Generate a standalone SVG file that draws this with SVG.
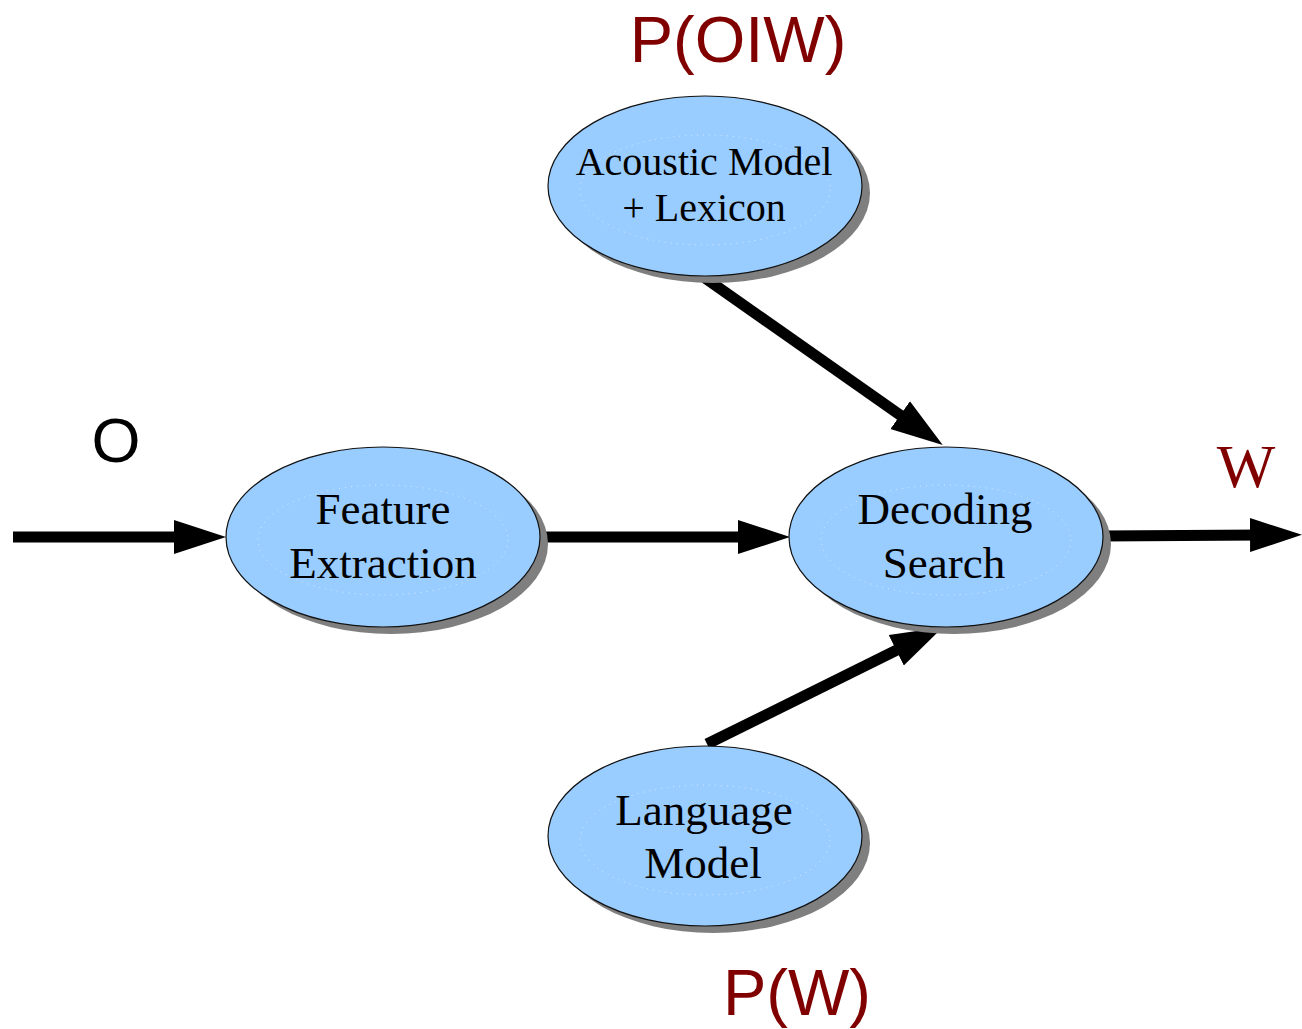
<svg xmlns="http://www.w3.org/2000/svg" width="1302" height="1029" viewBox="0 0 1302 1029">
<style>
.shadow{fill:#7f7f7f}
.body{fill:#99ccff;stroke:#111;stroke-width:1.2}
.inner{fill:none;stroke:#e8f2ff;stroke-width:1;stroke-dasharray:1 5;opacity:0.8}
.lbl{font-family:"Liberation Serif","Times New Roman",serif;font-size:45px;fill:#000;text-anchor:middle}
.lbl-s{font-family:"Liberation Serif","Times New Roman",serif;font-size:40px;fill:#000;text-anchor:middle}
.prob{font-family:"Liberation Sans",Arial,sans-serif;font-size:65px;fill:#800000;text-anchor:middle}
.o{font-family:"Liberation Sans",Arial,sans-serif;font-size:63px;fill:#000;text-anchor:middle}
.w{font-family:"Liberation Serif","Times New Roman",serif;font-size:62px;fill:#800000;text-anchor:middle}
.edge{stroke:#000;stroke-width:11;fill:none;marker-end:url(#ah)}
</style>
<defs>
<marker id="ah" markerUnits="userSpaceOnUse" markerWidth="54" markerHeight="38" refX="12" refY="18" orient="auto">
<path d="M0,1 L52,18 L0,35 Z" fill="#000"/>
</marker>
</defs>
<rect width="1302" height="1029" fill="#fff"/>
<g id="connectors">
<path class="edge" d="M13,537 L186,537"/>
<path class="edge" d="M540,537 L750,537"/>
<path class="edge" d="M1102,536 L1262,535"/>
<path class="edge" d="M705,278 L910,422"/>
<path class="edge" d="M707,744 L907,645"/>
</g>
<g id="acoustic">
<ellipse class="shadow" cx="713" cy="193" rx="157" ry="90"/>
<ellipse class="body" cx="705" cy="186" rx="157" ry="90"/>
<ellipse class="inner" cx="705" cy="190" rx="125" ry="55"/>
<text class="lbl-s" x="704" y="175">Acoustic Model</text>
<text class="lbl-s" x="704" y="221">+ Lexicon</text>
</g>
<g id="feature">
<ellipse class="shadow" cx="391" cy="544" rx="157" ry="90"/>
<ellipse class="body" cx="383" cy="537" rx="157" ry="90"/>
<ellipse class="inner" cx="383" cy="540" rx="125" ry="55"/>
<text class="lbl" x="383" y="524">Feature</text>
<text class="lbl" x="383" y="578">Extraction</text>
</g>
<g id="decoding">
<ellipse class="shadow" cx="954" cy="544" rx="157" ry="90"/>
<ellipse class="body" cx="946" cy="537" rx="157" ry="90"/>
<ellipse class="inner" cx="946" cy="540" rx="125" ry="55"/>
<text class="lbl" x="945" y="524">Decoding</text>
<text class="lbl" x="944" y="578">Search</text>
</g>
<g id="language">
<ellipse class="shadow" cx="713" cy="843" rx="157" ry="90"/>
<ellipse class="body" cx="705" cy="836" rx="157" ry="90"/>
<ellipse class="inner" cx="705" cy="840" rx="125" ry="55"/>
<text class="lbl" x="704" y="825">Language</text>
<text class="lbl" x="703" y="878">Model</text>
</g>
<g id="labels">
<text class="prob" x="738" y="62">P(OIW)</text>
<text class="prob" x="797" y="1015">P(W)</text>
<text class="o" x="116" y="462">O</text>
<text class="w" x="1246" y="487">W</text>
</g>
</svg>
